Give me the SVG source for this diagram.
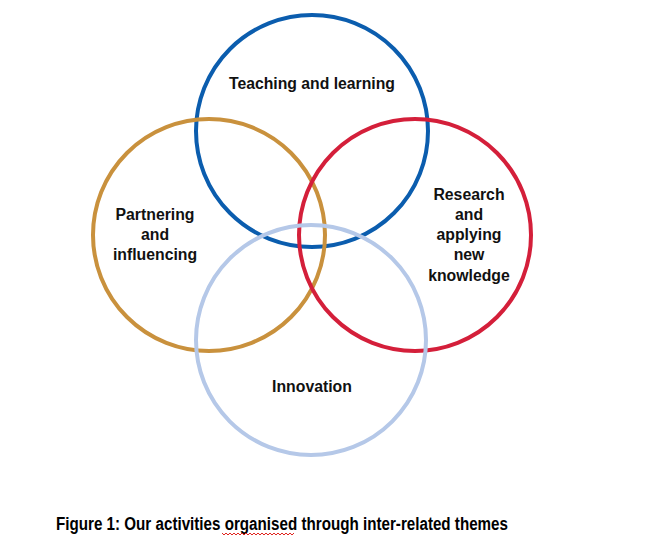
<svg xmlns="http://www.w3.org/2000/svg" width="648" height="550" viewBox="0 0 648 550">
<style>
.c{fill:none;stroke-width:4}
.t{font-family:"Liberation Sans",Arial,sans-serif;font-weight:bold;font-size:15.8px;fill:#111;text-anchor:middle}
.cap{font-family:"Liberation Sans",Arial,sans-serif;font-weight:bold;font-size:18px;fill:#000}
</style>
<rect width="648" height="550" fill="#fff"/>
<g id="teaching">
<circle class="c" cx="312" cy="131" r="116" stroke="#0B5DAE"/>
<text class="t" x="312" y="89" textLength="166" lengthAdjust="spacingAndGlyphs">Teaching and learning</text>
</g>
<g id="partnering">
<circle class="c" cx="209" cy="235" r="116" stroke="#C9913D"/>
<text class="t" x="155" y="220">Partnering</text>
<text class="t" x="155" y="240">and</text>
<text class="t" x="155" y="260">influencing</text>
</g>
<g id="research">
<circle class="c" cx="415" cy="235" r="116" stroke="#D41F3A"/>
<text class="t" x="469" y="200">Research</text>
<text class="t" x="469" y="220">and</text>
<text class="t" x="469" y="240">applying</text>
<text class="t" x="469" y="260">new</text>
<text class="t" x="469" y="281">knowledge</text>
</g>
<g id="innovation">
<circle class="c" cx="311" cy="340" r="115" stroke="#B5C8E8"/>
<text class="t" x="312" y="392">Innovation</text>
</g>
<g id="connectors"></g>
<g id="caption">
<text class="cap" x="56" y="530" textLength="452" lengthAdjust="spacingAndGlyphs">Figure 1: Our activities organised through inter-related themes</text>
<path d="M222 533 l2 2 l2 -2 l2 2 l2 -2 l2 2 l2 -2 l2 2 l2 -2 l2 2 l2 -2 l2 2 l2 -2 l2 2 l2 -2 l2 2 l2 -2 l2 2 l2 -2 l2 2 l2 -2 l2 2 l2 -2 l2 2 l2 -2 l2 2 l2 -2 l2 2 l2 -2 l2 2 l2 -2 l2 2 l2 -2 l2 2 l2 -2 l2 2 l2 -2" fill="none" stroke="#E0241F" stroke-width="1"/>
</g>
</svg>
